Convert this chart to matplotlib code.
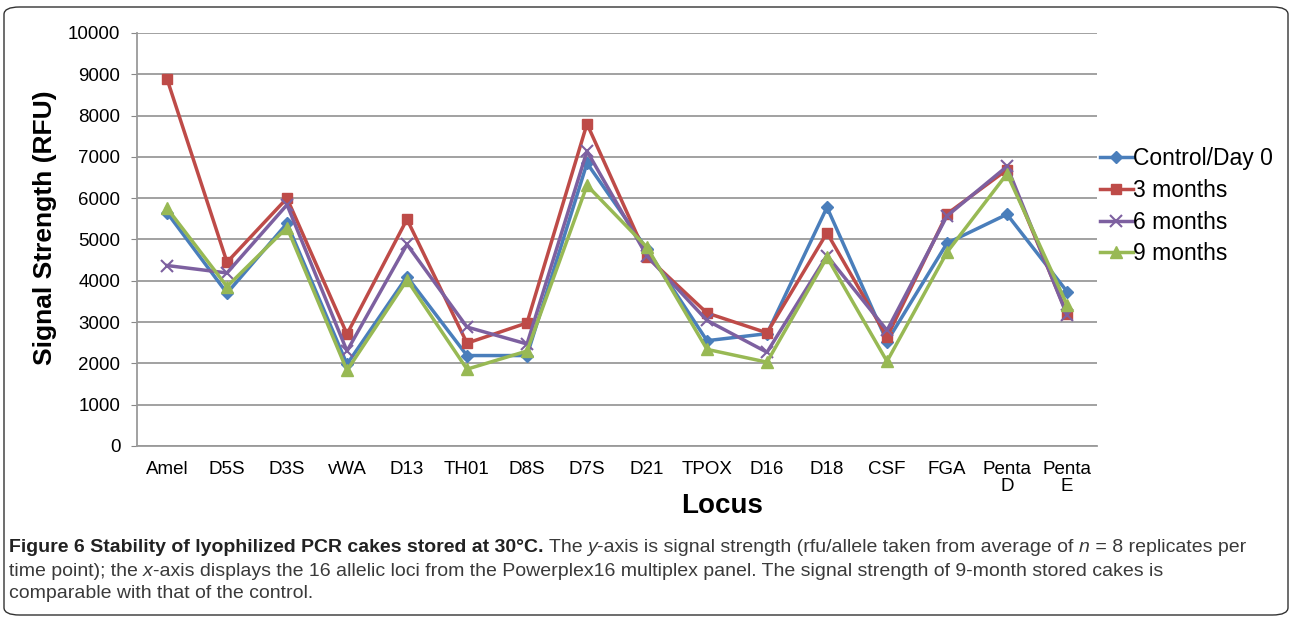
import matplotlib
matplotlib.use("Agg")
import matplotlib.pyplot as plt
from matplotlib.patches import FancyBboxPatch

# data
loci = ["Amel", "D5S", "D3S", "vWA", "D13", "TH01", "D8S", "D7S", "D21",
        "TPOX", "D16", "D18", "CSF", "FGA", "Penta\nD", "Penta\nE"]
control = [5650, 3700, 5390, 1980, 4100, 2190, 2190, 6850, 4760,
           2550, 2720, 5780, 2530, 4910, 5610, 3740]
m3 = [8890, 4450, 6000, 2710, 5490, 2490, 2980, 7800, 4580,
      3220, 2740, 5160, 2640, 5620, 6690, 3200]
m6 = [4370, 4190, 5840, 2300, 4880, 2880, 2470, 7140, 4600,
      3040, 2270, 4610, 2800, 5570, 6770, 3170]
m9 = [5760, 3860, 5290, 1830, 4020, 1860, 2300, 6310, 4810,
      2340, 2030, 4570, 2050, 4690, 6590, 3420]
series_names = ["Control/Day 0", "3 months", "6 months", "9 months"]

plt.rcParams['font.family'] = ['Liberation Sans', 'DejaVu Sans']

fig = plt.figure(figsize=(12.92, 6.19), dpi=100)
ax = fig.add_axes([137/1292, 1-446/619, 960/1292, 413/619])

x = list(range(len(loci)))
styles = [
    (control, "#4A7EBB", "D", 6),
    (m3, "#BE4B48", "s", 7.5),
    (m6, "#7D60A0", "x", 8),
    (m9, "#98B954", "^", 8),
]
for (vals, col, mk, ms), name in zip(styles, series_names):
    ax.plot(x, vals, color=col, marker=mk, markersize=ms, linewidth=2.5,
            markeredgewidth=1.5 if mk == "x" else 1, label=name, zorder=3)

ax.set_xlim(-0.5, len(loci) - 0.5)
ax.set_ylim(0, 10000)
ax.set_yticks(range(0, 10001, 1000))
ax.set_xticks(x)
ax.set_xticklabels(loci, fontsize=13.5, linespacing=1.0)
ax.tick_params(axis='y', labelsize=13.5, length=4, color="#888888", pad=8)
ax.tick_params(axis='x', length=0, pad=11)
ax.grid(axis='y', color="#9a9a9a", linewidth=1.3)
ax.set_axisbelow(True)
for s in ["top", "right"]:
    ax.spines[s].set_visible(False)
ax.spines["left"].set_color("#9a9a9a")
ax.spines["bottom"].set_color("#9a9a9a")
ax.spines["left"].set_linewidth(1.3)
ax.spines["bottom"].set_linewidth(1.3)

fig.text(45/1292, 1 - 228/619, "Signal Strength (RFU)", fontsize=19,
         fontweight="bold", rotation=90, ha="center", va="center")
fig.text(722/1292, 1 - 506/619, "Locus", fontsize=20, fontweight="bold",
         ha="center", va="center")

ax.legend(loc="upper left", bbox_to_anchor=(1.0, 0.732), frameon=False,
          fontsize=16.5, handlelength=1.4, handletextpad=0.0, labelspacing=0.38,
          borderpad=0, borderaxespad=0.15)

# rounded frame around the figure
fig.patches.append(FancyBboxPatch((4/1292, 4/619), 1284/1292, 608/619,
                                  boxstyle="round,pad=0,rounding_size=0.012",
                                  transform=fig.transFigure, fill=False,
                                  edgecolor="#333333", linewidth=1.0))

# caption, drawn as runs of text
cap_font = ['Liberation Sans', 'DejaVu Sans']
lines = [
    [("Figure 6 Stability of lyophilized PCR cakes stored at 30°C.", "bold", "normal"),
     (" The ", "normal", "normal"), ("y", "normal", "italic"),
     ("-axis is signal strength (rfu/allele taken from average of ", "normal", "normal"),
     ("n", "normal", "italic"), (" = 8 replicates per", "normal", "normal")],
    [("time point); the ", "normal", "normal"), ("x", "normal", "italic"),
     ("-axis displays the 16 allelic loci from the Powerplex16 multiplex panel. "
      "The signal strength of 9-month stored cakes is", "normal", "normal")],
    [("comparable with that of the control.", "normal", "normal")],
]
fig.canvas.draw()
renderer = fig.canvas.get_renderer()
ys = [548, 571, 594]
for runs, yp in zip(lines, ys):
    xp = 9
    for txt, wt, st in runs:
        t = fig.text(xp/1292, 1 - yp/619, txt, fontsize=14.0, fontweight=wt,
                     fontstyle=st, family=cap_font,
                     color="#222222" if wt == "bold" else "#3a3a3a",
                     va="center", ha="left")
        bb = t.get_window_extent(renderer=renderer)
        xp += bb.width

fig.savefig("out.png", dpi=100)
